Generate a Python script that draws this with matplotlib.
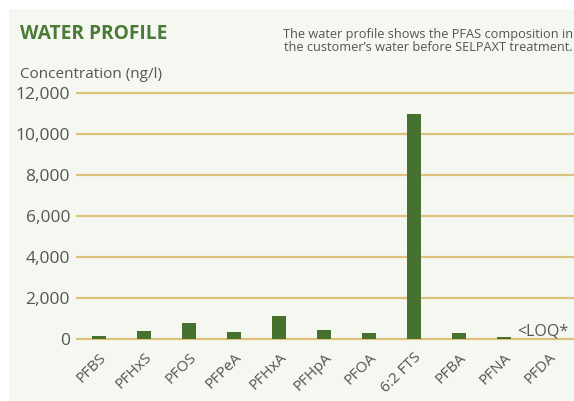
import matplotlib
matplotlib.use("Agg")
from matplotlib import pyplot as plt
from matplotlib.patches import Rectangle

# values (ng/l)
compounds = ["PFBS", "PFHxS", "PFOS", "PFPeA", "PFHxA", "PFHpA", "PFOA",
             "6:2 FTS", "PFBA", "PFNA", "PFDA"]
concentration = [150, 400, 780, 340, 1130, 440, 290, 11000, 290, 100, 0]
y_ticks = [0, 2000, 4000, 6000, 8000, 10000, 12000]

green = "#47712f"
gold = "#dcc27a"
grey = "#555555"
panel = "#f5f7f1"

plt.rcParams["font.family"] = ["Open Sans", "DejaVu Sans"]

W, H = 574, 401
fig = plt.figure(figsize=(W / 100, H / 100), dpi=100)
fig.patch.set_facecolor("white")
fig.patches.append(Rectangle((9 / W, 0), 1 - 9 / W, 1 - 9 / H,
                             transform=fig.transFigure, facecolor=panel,
                             edgecolor="none", zorder=-10))

ax = fig.add_axes([77 / W, 62 / H, 1 - 77 / W, 246 / H])
ax.set_facecolor("none")

x = list(range(len(compounds)))
for t in y_ticks:
    ax.axhline(t, color=gold, lw=1.6, zorder=1, clip_on=False)
ax.bar(x, concentration, width=0.31, color=green, zorder=2)

ax.set_xlim(-0.49, 10.56)
ax.set_ylim(0, 12000)
ax.set_yticks(y_ticks)
ax.set_yticklabels([f"{t:,}" for t in y_ticks])
ax.set_xticks(x)
ax.set_xticklabels(compounds, rotation=45, ha="right", va="top",
                   rotation_mode="anchor")
ax.tick_params(axis="y", length=0, pad=5, labelsize=12.5, labelcolor=grey)
ax.tick_params(axis="x", length=0, pad=8, labelsize=11, labelcolor=grey)
for s in ax.spines.values():
    s.set_visible(False)

ax.text(9.87, 190, "<LOQ*", ha="center", va="baseline", fontsize=11.5,
        color=grey)

fig.text(20 / W, 1 - 34 / H, "WATER PROFILE", fontsize=13.8, fontweight="bold",
         color="#4a7a35", va="center")
fig.text(573 / W, 1 - 41 / H,
         "The water profile shows the PFAS composition in\n"
         "the customer\u2019s water before SELPAXT treatment.",
         fontsize=9.2, color=grey, ha="right", va="center", linespacing=1.05)
fig.text(20 / W, 1 - 74 / H, "Concentration (ng/l)", fontsize=11,
         color=grey, va="center")

fig.savefig("out.png", dpi=100, facecolor=fig.get_facecolor())
